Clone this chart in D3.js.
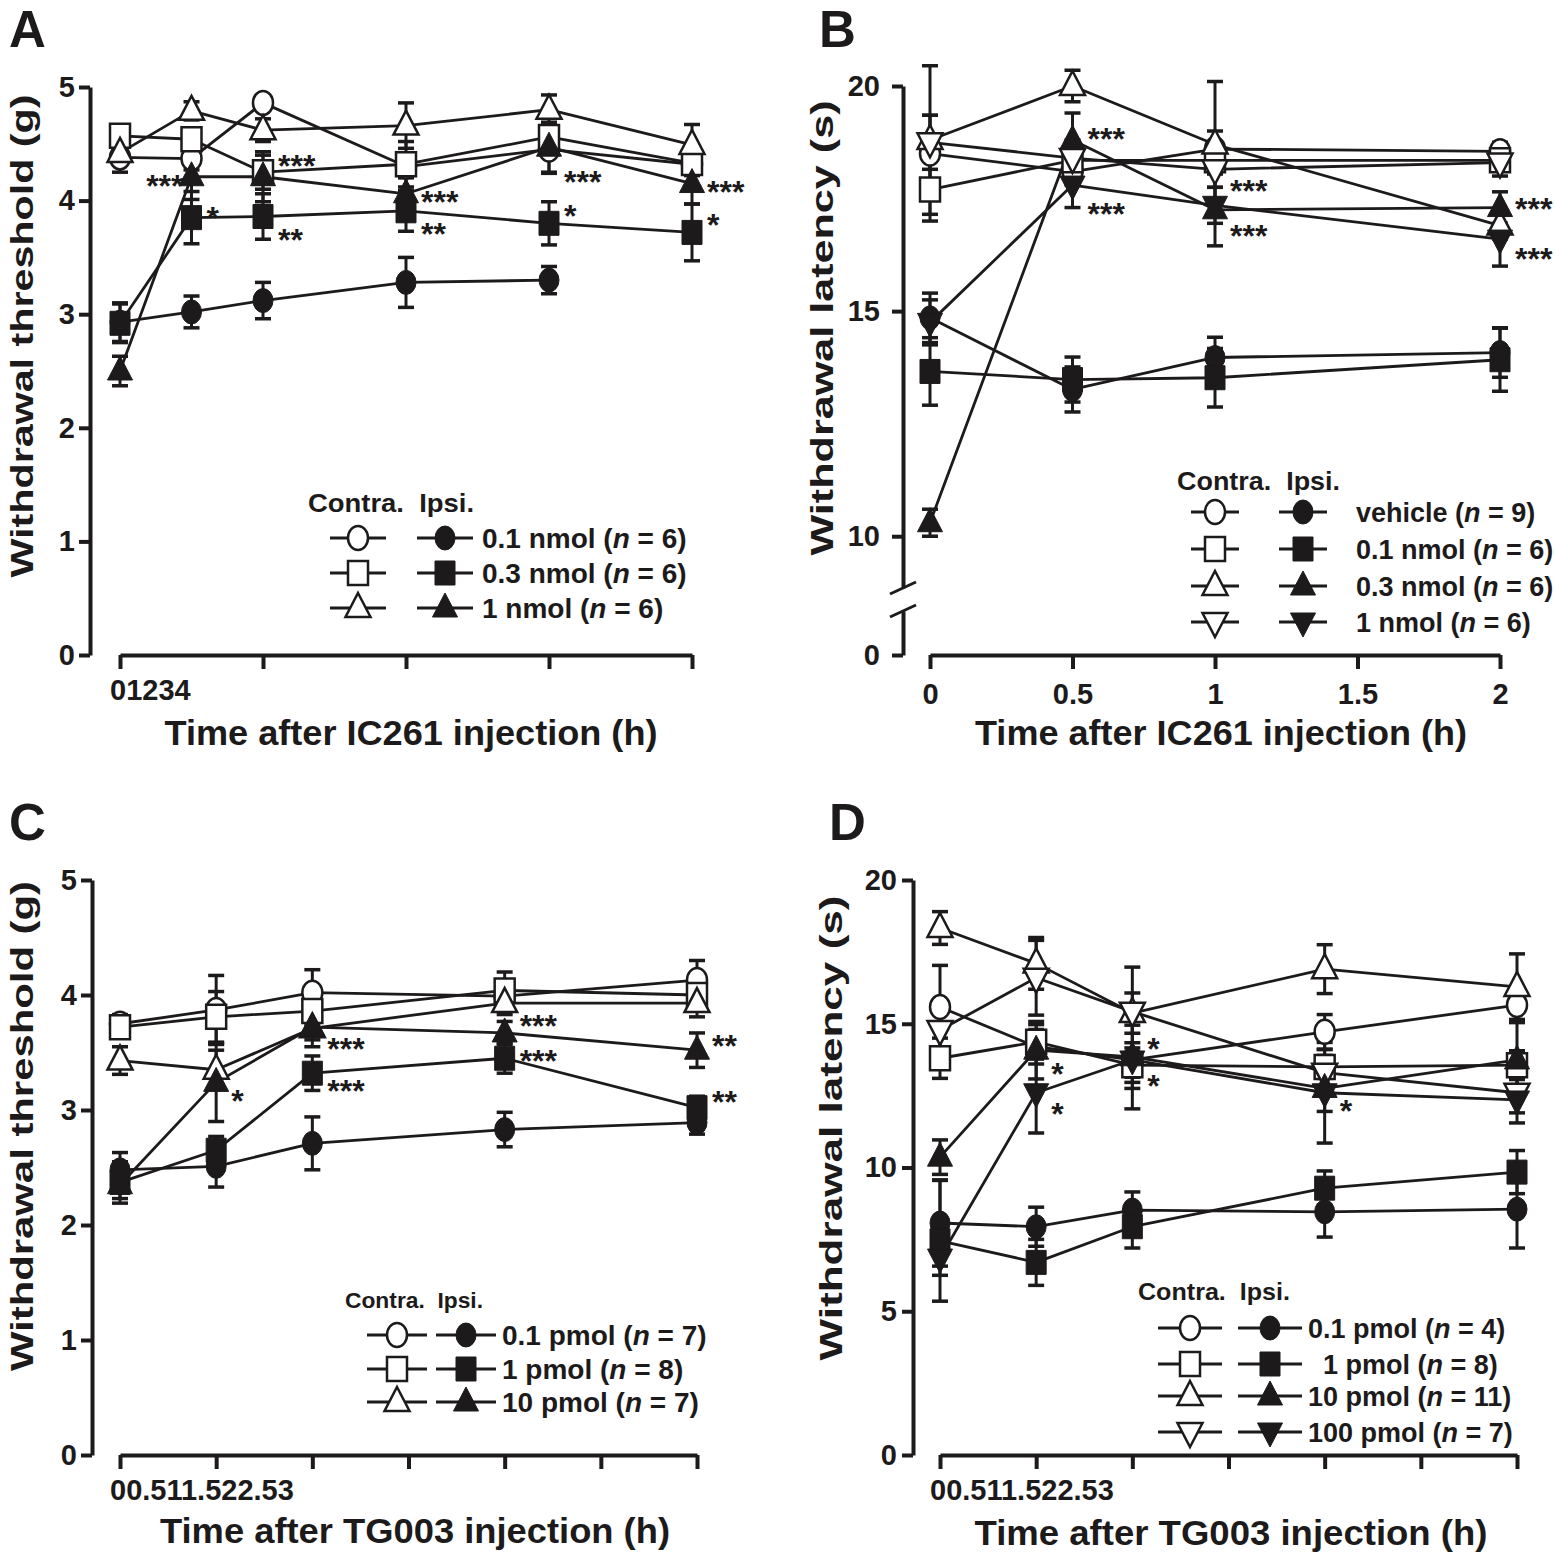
<!DOCTYPE html>
<html>
<head>
<meta charset="utf-8">
<script src="https://cdn.jsdelivr.net/npm/d3@7"></script>
<style>
  body { margin: 0; background: #fff; }
  svg { display: block; }
</style>
</head>
<body>
<svg width="1555" height="1555"></svg>
<script>
// ---------- data (means and SEM) ----------
// series order in every panel: circle, square, triangle, inverted triangle

// A: withdrawal threshold after IC261
const timeA = [0, 0.5, 1, 2, 3, 4];
const tickA = [0, 1, 2, 3, 4];
const doseA = ["0.1 nmol", "0.3 nmol", "1 nmol"];
const nA = [6, 6, 6];
const contraA = [
  [4.38, 4.37, 4.86, 4.30, 4.45, 4.32],
  [4.57, 4.54, 4.25, 4.32, 4.56, 4.33],
  [4.42, 4.79, 4.62, 4.66, 4.80, 4.49]
];
const contraSeA = [
  [0.13, 0.10, 0.05, 0.10, 0.21, 0.10],
  [0.05, 0.10, 0.15, 0.20, 0.12, 0.10],
  [0.05, 0.08, 0.10, 0.20, 0.13, 0.18]
];
const ipsiA = [
  [2.93, 3.02, 3.12, 3.28, 3.30, null],
  [2.92, 3.85, 3.86, 3.91, 3.80, 3.72],
  [2.50, 4.21, 4.21, 4.06, 4.47, 4.15]
];
const ipsiSeA = [
  [0.17, 0.14, 0.16, 0.22, 0.12, null],
  [0.17, 0.23, 0.20, 0.18, 0.19, 0.25],
  [0.13, 0.20, 0.22, 0.15, 0.22, 0.18]
];
const starsA = [
  {t: 0.5, v: 4.18, s: "***", left: true},
  {t: 0.5, v: 3.90, s: "*"},
  {t: 1, v: 4.36, s: "***"},
  {t: 1, v: 3.71, s: "**"},
  {t: 2, v: 4.04, s: "***"},
  {t: 2, v: 3.76, s: "**"},
  {t: 3, v: 4.22, s: "***"},
  {t: 3, v: 3.92, s: "*"},
  {t: 4, v: 4.13, s: "***"},
  {t: 4, v: 3.84, s: "*"}
];

// B: withdrawal latency after IC261
const timeB = [0, 0.5, 1, 2];
const tickB = [0, 0.5, 1, 1.5, 2];
const doseB = ["vehicle", "0.1 nmol", "0.3 nmol", "1 nmol"];
const nB = [9, 6, 6, 6];
const contraB = [
  [18.50, 18.10, 18.60, 18.55],
  [17.70, 18.35, 18.35, 18.35],
  [18.80, 20.00, 18.70, 16.90],
  [18.75, 18.40, 18.15, 18.30]
];
const contraSeB = [
  [0.85, 0.30, 1.50, 0.20],
  [0.70, 0.30, 0.30, 0.20],
  [1.65, 0.35, 0.30, 0.30],
  [0.60, 0.40, 0.40, 0.30]
];
const ipsiB = [
  [14.85, 13.26, 13.97, 14.08],
  [13.66, 13.48, 13.52, 13.92],
  [10.30, 18.80, 17.25, 17.30],
  [14.75, 17.80, 17.35, 16.60]
];
const ipsiSeB = [
  [0.55, 0.50, 0.45, 0.55],
  [0.75, 0.50, 0.65, 0.70],
  [0.30, 0.60, 0.80, 0.35],
  [0.50, 0.50, 0.40, 0.60]
];
const starsB = [
  {t: 0.5, v: 18.96, s: "***"},
  {t: 0.5, v: 17.29, s: "***"},
  {t: 1, v: 17.80, s: "***"},
  {t: 1, v: 16.81, s: "***"},
  {t: 2, v: 17.41, s: "***"},
  {t: 2, v: 16.30, s: "***"}
];

// C: withdrawal threshold after TG003
const timeC = [0, 0.5, 1, 2, 3];
const tickC = [0, 0.5, 1, 1.5, 2, 2.5, 3];
const doseC = ["0.1 pmol", "1 pmol", "10 pmol"];
const nC = [7, 8, 7];
const contraC = [
  [3.75, 3.87, 4.02, 3.99, 4.13],
  [3.72, 3.81, 3.86, 4.04, 4.00],
  [3.43, 3.35, 3.71, 3.93, 3.93]
];
const contraSeC = [
  [0.08, 0.30, 0.20, 0.10, 0.17],
  [0.08, 0.22, 0.12, 0.16, 0.10],
  [0.12, 0.17, 0.10, 0.10, 0.12]
];
const ipsiC = [
  [2.48, 2.51, 2.71, 2.83, 2.89],
  [2.37, 2.65, 3.32, 3.45, 3.02],
  [2.35, 3.24, 3.72, 3.67, 3.52]
];
const ipsiSeC = [
  [0.15, 0.18, 0.23, 0.15, 0.10],
  [0.18, 0.12, 0.15, 0.13, 0.10],
  [0.12, 0.34, 0.17, 0.10, 0.15]
];
const starsC = [
  {t: 0.5, v: 3.13, s: "*"},
  {t: 1, v: 3.58, s: "***"},
  {t: 1, v: 3.22, s: "***"},
  {t: 2, v: 3.78, s: "***"},
  {t: 2, v: 3.48, s: "***"},
  {t: 3, v: 3.61, s: "**"},
  {t: 3, v: 3.12, s: "**"}
];

// D: withdrawal latency after TG003
const timeD = [0, 0.5, 1, 2, 3];
const tickD = [0, 0.5, 1, 1.5, 2, 2.5, 3];
const doseD = ["0.1 pmol", "  1 pmol", "10 pmol", "100 pmol"];
const nD = [4, 8, 11, 7];
const contraD = [
  [15.58, 14.20, 13.74, 14.72, 15.65],
  [13.80, 14.37, 13.56, 13.50, 13.56],
  [18.33, 17.10, 15.37, 16.90, 16.28],
  [14.78, 16.60, 15.42, 13.30, 12.60]
];
const contraSeD = [
  [1.45, 0.60, 0.60, 0.60, 0.50],
  [0.70, 0.60, 0.60, 0.40, 0.50],
  [0.57, 0.90, 0.70, 0.85, 1.15],
  [0.90, 1.30, 1.55, 0.80, 0.70]
];
const ipsiD = [
  [8.07, 7.94, 8.52, 8.46, 8.55],
  [7.45, 6.70, 7.94, 9.28, 9.84],
  [10.36, 14.08, 13.85, 12.75, 13.74],
  [6.85, 12.60, 13.74, 12.60, 12.35]
];
const ipsiSeD = [
  [1.50, 0.68, 0.63, 0.88, 1.35],
  [2.10, 0.80, 0.74, 0.60, 0.75],
  [0.60, 1.00, 1.10, 0.80, 1.30],
  [0.60, 1.40, 1.70, 1.75, 0.80]
];
const starsD = [
  {t: 0.5, v: 13.46, s: "*"},
  {t: 0.5, v: 12.07, s: "*"},
  {t: 1, v: 14.33, s: "*"},
  {t: 1, v: 13.04, s: "*"},
  {t: 2, v: 12.17, s: "*"}
];

// ---------- drawing ----------
const svg = d3.select("svg");
const ink = "#1d1a1b";
const font = '"Liberation Sans",Arial,sans-serif';
const shapes = ["circle", "square", "triangle", "down"];

function markerPath(shape) {
  if (shape === "circle") return "M0,-12A10,12 0 1,1 0,12A10,12 0 1,1 0,-12Z";
  if (shape === "square") return "M-10,-12H10V12H-10Z";
  if (shape === "triangle") return "M0,-15L12.5,9L-12.5,9Z";
  return "M0,15L12.5,-9L-12.5,-9Z";
}

function marker(g, shape, open) {
  return g.append("path")
    .attr("d", markerPath(shape))
    .attr("fill", open ? "#fff" : ink)
    .attr("stroke", ink)
    .attr("stroke-width", open ? 2.5 : 1);
}

function styleAxis(a) {
  a.attr("font-family", font).attr("font-size", 29).attr("font-weight", "bold");
  a.selectAll("path.domain, line").attr("stroke", ink).attr("stroke-width", 4);
  a.selectAll("text").attr("fill", ink);
}

function drawPanel(p) {
  const g = svg.append("g");
  const x = p.x, y = p.y;
  const fmt = d3.format("");

  // axes
  const ya = g.append("g").attr("transform", `translate(${p.yAxisX},0)`)
    .call(d3.axisLeft(y).tickValues(p.yTicks).tickSize(11).tickSizeOuter(0)
      .tickPadding(p.yPad).tickFormat(fmt));
  styleAxis(ya);

  if (p.yLow) {
    const yl = g.append("g").attr("transform", `translate(${p.yAxisX},0)`)
      .call(d3.axisLeft(p.yLow).tickValues([0]).tickSize(11).tickSizeOuter(0)
        .tickPadding(p.yPad).tickFormat(fmt));
    styleAxis(yl);
    [y.range()[0], p.yLow.range()[1]].forEach(yb => {
      g.append("line")
        .attr("x1", p.yAxisX - 13).attr("y1", yb + 6)
        .attr("x2", p.yAxisX + 13).attr("y2", yb - 6)
        .attr("stroke", ink).attr("stroke-width", 3);
    });
  }

  const xa = g.append("g").attr("transform", `translate(0,${p.xAxisY})`)
    .call(d3.axisBottom(x).tickValues(p.ticks).tickSize(14).tickSizeOuter(0).tickPadding(14)
      .tickFormat(p.squash ? () => "" : fmt));
  styleAxis(xa);

  if (p.squash) {
    // tick labels printed run together, as in the source figure
    g.append("text")
      .attr("x", x(p.ticks[0]) - 10).attr("y", p.xAxisY + 45)
      .attr("font-family", font).attr("font-size", 29).attr("font-weight", "bold")
      .attr("fill", ink)
      .text(p.ticks.join(""));
  }

  // series
  const sets = [
    {m: p.contra, se: p.contraSe, open: true},
    {m: p.ipsi, se: p.ipsiSe, open: false}
  ];
  const series = [];
  sets.forEach(s => s.m.forEach((row, k) => {
    series.push({
      shape: shapes[k],
      open: s.open,
      data: p.time.map((t, j) => ({t, v: row[j], e: s.se[k][j]}))
    });
  }));

  // error bars
  series.forEach(sr => sr.data.filter(d => d.v != null).forEach(d => {
    const cx = x(d.t), y1 = y(d.v - d.e), y2 = y(d.v + d.e);
    g.append("line").attr("x1", cx).attr("x2", cx).attr("y1", y1).attr("y2", y2)
      .attr("stroke", ink).attr("stroke-width", 3);
    [y1, y2].forEach(yy => g.append("line")
      .attr("x1", cx - 8).attr("x2", cx + 8).attr("y1", yy).attr("y2", yy)
      .attr("stroke", ink).attr("stroke-width", 3.5));
  }));

  // lines
  const line = d3.line().defined(d => d.v != null).x(d => x(d.t)).y(d => y(d.v));
  series.forEach(sr => g.append("path")
    .attr("d", line(sr.data)).attr("fill", "none")
    .attr("stroke", ink).attr("stroke-width", 2.8).attr("stroke-linejoin", "round"));

  // markers
  series.forEach(sr => sr.data.filter(d => d.v != null).forEach(d => {
    marker(g, sr.shape, sr.open).attr("transform", `translate(${x(d.t)},${y(d.v)})`);
  }));

  // significance marks
  p.stars.forEach(st => {
    g.append("text")
      .attr("x", x(st.t) + (st.left ? -8 : 15))
      .attr("y", y(st.v) + 17)
      .attr("text-anchor", st.left ? "end" : "start")
      .attr("font-family", font).attr("font-size", 32).attr("font-weight", "bold")
      .attr("fill", ink)
      .text(st.s);
  });

  // legend
  const L = p.legend;
  g.append("text")
    .attr("x", L.headX).attr("y", L.headY)
    .attr("font-family", font).attr("font-size", L.headSize).attr("font-weight", "bold")
    .attr("fill", ink).attr("textLength", L.headLen).attr("lengthAdjust", "spacingAndGlyphs")
    .style("white-space", "pre")
    .text("Contra.  Ipsi.");
  L.rows.forEach((ry, k) => {
    [[L.openX, true], [L.fillX, false]].forEach(([cx, open]) => {
      g.append("line")
        .attr("x1", cx - L.half).attr("x2", cx + L.half).attr("y1", ry).attr("y2", ry)
        .attr("stroke", ink).attr("stroke-width", 3);
      marker(g, shapes[k], open).attr("transform", `translate(${cx},${ry})`);
    });
    const t = g.append("text")
      .attr("x", L.labelX).attr("y", ry + 10)
      .attr("font-family", font).attr("font-size", L.size).attr("font-weight", "bold")
      .attr("fill", ink).style("white-space", "pre");
    t.append("tspan").text(p.dose[k] + " (");
    t.append("tspan").attr("font-style", "italic").text("n");
    t.append("tspan").text(" = " + p.n[k] + ")");
  });

  // titles
  g.append("text")
    .attr("transform", `translate(${p.yTitleX},${p.yTitleY}) rotate(-90)`)
    .attr("text-anchor", "middle")
    .attr("font-family", font).attr("font-size", 32).attr("font-weight", "bold")
    .attr("fill", ink).attr("textLength", p.yTitleLen).attr("lengthAdjust", "spacingAndGlyphs")
    .text(p.yTitle);
  g.append("text")
    .attr("x", p.xTitleX).attr("y", p.xTitleY)
    .attr("text-anchor", "middle")
    .attr("font-family", font).attr("font-size", 35).attr("font-weight", "bold")
    .attr("fill", ink).attr("textLength", p.xTitleLen).attr("lengthAdjust", "spacingAndGlyphs")
    .text(p.xTitle);
  g.append("text")
    .attr("x", p.letterX).attr("y", p.letterY)
    .attr("font-family", font).attr("font-size", 51).attr("font-weight", "bold")
    .attr("fill", ink)
    .text(p.letter);
}

drawPanel({
  letter: "A", letterX: 9, letterY: 47,
  time: timeA, ticks: tickA, squash: true, dose: doseA, n: nA,
  contra: contraA, contraSe: contraSeA, ipsi: ipsiA, ipsiSe: ipsiSeA, stars: starsA,
  x: d3.scaleLinear().domain([0, 4]).range([120, 692]),
  y: d3.scaleLinear().domain([0, 5]).range([655, 87]),
  yTicks: [0, 1, 2, 3, 4, 5], yAxisX: 90, xAxisY: 655, yPad: 4,
  yTitle: "Withdrawal threshold (g)", yTitleX: 33, yTitleY: 336, yTitleLen: 483,
  xTitle: "Time after IC261 injection (h)", xTitleX: 411, xTitleY: 745, xTitleLen: 493,
  legend: {headX: 308, headY: 512, headSize: 25, headLen: 166, rows: [538, 573, 608],
           openX: 358, fillX: 445, half: 28, labelX: 482, size: 28}
});

drawPanel({
  letter: "B", letterX: 819, letterY: 47,
  time: timeB, ticks: tickB, squash: false, dose: doseB, n: nB,
  contra: contraB, contraSe: contraSeB, ipsi: ipsiB, ipsiSe: ipsiSeB, stars: starsB,
  x: d3.scaleLinear().domain([0, 2]).range([930, 1500]),
  y: d3.scaleLinear().domain([8.85, 20]).range([588, 86]),
  yLow: d3.scaleLinear().domain([0, 1]).range([655, 611]),
  yTicks: [10, 15, 20], yAxisX: 903, xAxisY: 655, yPad: 12,
  yTitle: "Withdrawal latency (s)", yTitleX: 833, yTitleY: 328, yTitleLen: 455,
  xTitle: "Time after IC261 injection (h)", xTitleX: 1221, xTitleY: 745, xTitleLen: 492,
  legend: {headX: 1177, headY: 490, headSize: 25, headLen: 163, rows: [512, 549, 586, 622],
           openX: 1215, fillX: 1303, half: 24, labelX: 1356, size: 27}
});

drawPanel({
  letter: "C", letterX: 9, letterY: 840,
  time: timeC, ticks: tickC, squash: true, dose: doseC, n: nC,
  contra: contraC, contraSe: contraSeC, ipsi: ipsiC, ipsiSe: ipsiSeC, stars: starsC,
  x: d3.scaleLinear().domain([0, 3]).range([120, 697]),
  y: d3.scaleLinear().domain([0, 5]).range([1455, 880]),
  yTicks: [0, 1, 2, 3, 4, 5], yAxisX: 92, xAxisY: 1455, yPad: 4,
  yTitle: "Withdrawal threshold (g)", yTitleX: 33, yTitleY: 1126, yTitleLen: 490,
  xTitle: "Time after TG003 injection (h)", xTitleX: 415, xTitleY: 1543, xTitleLen: 510,
  legend: {headX: 345, headY: 1308, headSize: 22, headLen: 138, rows: [1335, 1369, 1402],
           openX: 397, fillX: 466, half: 30, labelX: 502, size: 28}
});

drawPanel({
  letter: "D", letterX: 829, letterY: 840,
  time: timeD, ticks: tickD, squash: true, dose: doseD, n: nD,
  contra: contraD, contraSe: contraSeD, ipsi: ipsiD, ipsiSe: ipsiSeD, stars: starsD,
  x: d3.scaleLinear().domain([0, 3]).range([940, 1517]),
  y: d3.scaleLinear().domain([0, 20]).range([1455, 880]),
  yTicks: [0, 5, 10, 15, 20], yAxisX: 913, xAxisY: 1455, yPad: 5,
  yTitle: "Withdrawal latency (s)", yTitleX: 842, yTitleY: 1128, yTitleLen: 465,
  xTitle: "Time after TG003 injection (h)", xTitleX: 1231, xTitleY: 1545, xTitleLen: 513,
  legend: {headX: 1138, headY: 1300, headSize: 24, headLen: 152, rows: [1328, 1364, 1396, 1432],
           openX: 1190, fillX: 1270, half: 32, labelX: 1308, size: 27}
});
</script>
</body>
</html>
